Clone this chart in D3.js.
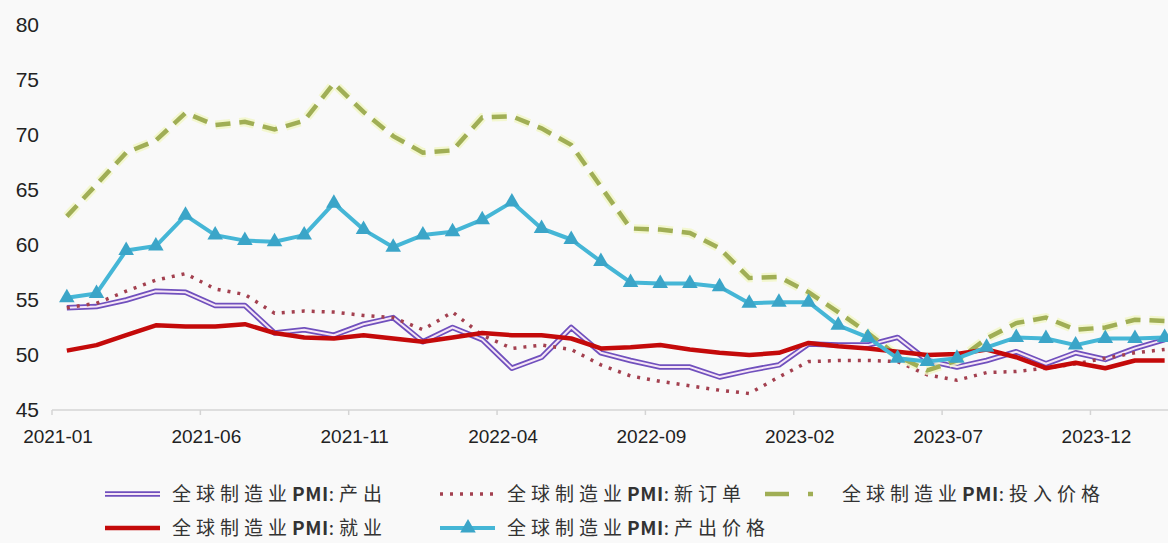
<!DOCTYPE html>
<html>
<head>
<meta charset="utf-8">
<script src="https://cdn.jsdelivr.net/npm/d3@7"></script>
<style>
  html, body { margin: 0; padding: 0; background: #f9f9f9; }
  svg { display: block; }
  .axis text { font-family: "Liberation Sans", Arial, sans-serif; fill: #222; }
  .legend text { font-family: "Noto Sans CJK SC", sans-serif; fill: #333; }
</style>
</head>
<body>
<svg id="chart" width="1168" height="543"></svg>
<script>
const months = [
  "2021-01","2021-02","2021-03","2021-04","2021-05","2021-06","2021-07","2021-08","2021-09","2021-10","2021-11","2021-12",
  "2022-01","2022-02","2022-03","2022-04","2022-05","2022-06","2022-07","2022-08","2022-09","2022-10","2022-11","2022-12",
  "2023-01","2023-02","2023-03","2023-04","2023-05","2023-06","2023-07","2023-08","2023-09","2023-10","2023-11","2023-12",
  "2024-01","2024-02"
];
const tickLabels = ["2021-01","2021-06","2021-11","2022-04","2022-09","2023-02","2023-07","2023-12"];
const yTicks = [45, 50, 55, 60, 65, 70, 75, 80];

// 全球制造业PMI
const output       = [54.3,54.4,55.0,55.8,55.7,54.5,54.5,52.0,52.3,51.8,52.8,53.4,51.2,52.5,51.4,48.8,49.8,52.5,50.2,49.5,48.9,48.9,48.0,48.6,49.1,51.0,50.9,50.9,51.6,49.5,48.9,49.5,50.3,49.2,50.2,49.6,50.6,51.4];
const newOrders    = [54.3,54.7,55.8,56.8,57.4,56.0,55.5,53.8,54.0,53.9,53.6,53.4,52.3,53.9,51.8,50.6,50.9,50.5,49.1,48.1,47.6,47.2,46.8,46.5,48.0,49.4,49.5,49.5,49.4,48.2,47.7,48.4,48.5,48.8,49.2,49.7,50.2,50.5];
const inputPrices  = [62.6,65.5,68.4,69.5,72.0,70.9,71.2,70.5,71.3,74.7,72.1,69.9,68.4,68.6,71.6,71.7,70.6,69.1,65.3,61.5,61.4,61.1,59.7,57.0,57.1,55.7,53.9,52.0,49.9,48.6,49.5,51.5,52.9,53.4,52.3,52.5,53.2,53.1];
const employment   = [50.4,50.9,51.8,52.7,52.6,52.6,52.8,52.0,51.6,51.5,51.8,51.5,51.2,51.6,52.0,51.8,51.8,51.5,50.6,50.7,50.9,50.5,50.2,50.0,50.2,51.1,50.8,50.6,50.3,50.0,50.1,50.5,49.8,48.8,49.3,48.8,49.5,49.5];
const outputPrices = [55.2,55.6,59.5,59.9,62.7,60.9,60.4,60.3,60.9,63.8,61.4,59.8,60.9,61.2,62.3,63.9,61.5,60.5,58.5,56.6,56.5,56.5,56.2,54.7,54.8,54.8,52.7,51.6,49.7,49.4,49.7,50.7,51.6,51.5,50.9,51.5,51.5,51.6];

const svg = d3.select('#chart');
const W = 1168;

const x = d3.scaleBand().domain(months).range([52, 52 + 29.67 * months.length]);
const bw = x.bandwidth();
const cx = m => x(m) + bw / 2;
const y = d3.scaleLinear().domain([45, 80]).range([410, 25]);

svg.append('rect').attr('width', W).attr('height', 543).attr('fill', '#f9f9f9');

// y labels
const yAxis = svg.append('g').attr('class', 'axis')
  .attr('transform', 'translate(39,0)')
  .call(d3.axisLeft(y).tickValues(yTicks).tickSize(0).tickPadding(0));
yAxis.select('.domain').remove();
yAxis.selectAll('text').style('font-size', '21px');

// x axis: ticks on category boundaries
const xg = svg.append('g').attr('class', 'axis');
xg.append('line')
  .attr('x1', x.range()[0]).attr('x2', W)
  .attr('y1', y(45)).attr('y2', y(45))
  .attr('stroke', '#d4d4d4').attr('stroke-width', 1.5);
xg.selectAll('line.tick').data(tickLabels).join('line')
  .attr('class', 'tick')
  .attr('x1', d => x(d)).attr('x2', d => x(d))
  .attr('y1', y(45)).attr('y2', y(45) + 5)
  .attr('stroke', '#d4d4d4').attr('stroke-width', 1.5);
xg.selectAll('text').data(tickLabels).join('text')
  .attr('x', d => x(d) + 6).attr('y', 443)
  .attr('text-anchor', 'middle')
  .style('font-size', '19px')
  .text(d => d);

const line = vals => d3.line().x((d, i) => cx(months[i])).y(d => y(d))(vals);

const plot = svg.append('g');

// 产出: double line
plot.append('path').attr('d', line(output)).attr('fill', 'none')
  .attr('stroke', '#7050bd').attr('stroke-width', 5.5).attr('stroke-linejoin', 'round');
plot.append('path').attr('d', line(output)).attr('fill', 'none')
  .attr('stroke', '#f6e6f6').attr('stroke-width', 2).attr('stroke-linejoin', 'round');

// 新订单: dotted
plot.append('path').attr('d', line(newOrders)).attr('fill', 'none')
  .attr('stroke', '#a3404f').attr('stroke-width', 3.5).attr('stroke-dasharray', '3,7');

// 投入价格: dashed
plot.append('path').attr('d', line(inputPrices)).attr('fill', 'none')
  .attr('stroke', '#f1f6c4').attr('stroke-width', 9).attr('stroke-dasharray', '15,9')
  .attr('opacity', 0.8);
plot.append('path').attr('d', line(inputPrices)).attr('fill', 'none')
  .attr('stroke', '#a0ae55').attr('stroke-width', 4.5).attr('stroke-dasharray', '15,9');

// 就业
plot.append('path').attr('d', line(employment)).attr('fill', 'none')
  .attr('stroke', '#c40a0a').attr('stroke-width', 4.5).attr('stroke-linejoin', 'round');

// 产出价格 with triangles
plot.append('path').attr('d', line(outputPrices)).attr('fill', 'none')
  .attr('stroke', '#45b6d6').attr('stroke-width', 4).attr('stroke-linejoin', 'round');
const tri = d3.symbol().type(d3.symbolTriangle).size(105);
plot.selectAll('path.tri').data(outputPrices).join('path')
  .attr('class', 'tri')
  .attr('d', tri)
  .attr('transform', (d, i) => `translate(${cx(months[i])},${y(d)})`)
  .attr('fill', '#3ba5c8');

// legend
const legendItems = [
  { name: '全球制造业PMI:产出',     kind: 'double', col: 0, row: 0 },
  { name: '全球制造业PMI:新订单',   kind: 'dot',    col: 1, row: 0 },
  { name: '全球制造业PMI:投入价格', kind: 'dash',   col: 2, row: 0 },
  { name: '全球制造业PMI:就业',     kind: 'red',    col: 0, row: 1 },
  { name: '全球制造业PMI:产出价格', kind: 'tri',    col: 1, row: 1 }
];
const colX = [105, 440, 765];
const rowY = [494, 528];
const lg = svg.append('g').attr('class', 'legend');
legendItems.forEach(it => {
  const g = lg.append('g').attr('transform', `translate(${colX[it.col]},${rowY[it.row]})`);
  if (it.kind === 'double') {
    g.append('line').attr('x1', 0).attr('x2', 55).attr('stroke', '#7050bd').attr('stroke-width', 5.5);
    g.append('line').attr('x1', 0).attr('x2', 55).attr('stroke', '#f6e6f6').attr('stroke-width', 2);
  } else if (it.kind === 'dot') {
    g.append('line').attr('x1', 0).attr('x2', 55).attr('stroke', '#a3404f')
      .attr('stroke-width', 3.5).attr('stroke-dasharray', '3,7');
  } else if (it.kind === 'dash') {
    g.append('line').attr('x1', 0).attr('x2', 48).attr('stroke', '#a0ae55')
      .attr('stroke-width', 4.5).attr('stroke-dasharray', '24,19');
  } else if (it.kind === 'red') {
    g.append('line').attr('x1', 0).attr('x2', 55).attr('stroke', '#c40a0a').attr('stroke-width', 4.5);
  } else {
    g.append('line').attr('x1', 0).attr('x2', 55).attr('stroke', '#45b6d6').attr('stroke-width', 4);
    g.append('path').attr('d', tri).attr('transform', 'translate(28,0)').attr('fill', '#3ba5c8');
  }
  // wide spacing on the CJK glyphs, tight on "PMI"
  const t = g.append('text')
    .attr('x', it.kind === 'dash' ? 77 : 67).attr('y', 7)
    .style('font-size', '19px');
  it.name.split(/(PMI)/).filter(s => s).forEach(seg => {
    t.append('tspan')
      .style('letter-spacing', seg === 'PMI' ? '0.5px' : '5px')
      .style('font-weight', seg === 'PMI' ? 'bold' : 'normal')
      .text(seg);
  });
});
</script>
</body>
</html>
